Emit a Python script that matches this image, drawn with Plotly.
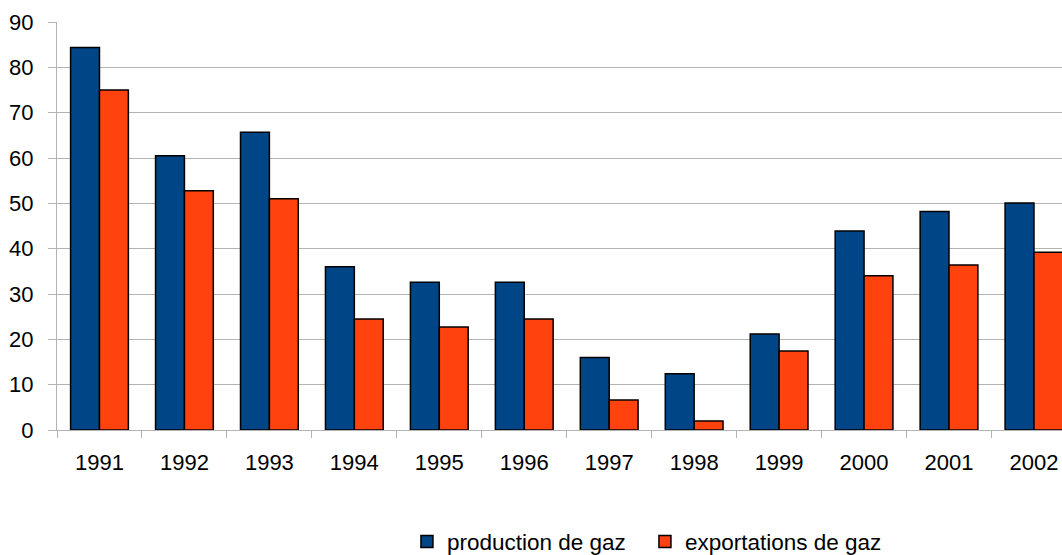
import plotly.graph_objects as go

years = ["1991", "1992", "1993", "1994", "1995", "1996", "1997", "1998", "1999", "2000", "2001", "2002"]
production = [84.4, 60.5, 65.7, 36.0, 32.6, 32.6, 16.0, 12.4, 21.2, 43.9, 48.2, 50.1]
exportations = [75.0, 52.8, 51.0, 24.5, 22.7, 24.5, 6.6, 2.0, 17.4, 34.0, 36.4, 39.2]

fig = go.Figure()
fig.add_trace(go.Bar(x=years, y=production, name="production de gaz", legend="legend",
                     marker=dict(color="#004586", line=dict(color="#000000", width=1.5))))
fig.add_trace(go.Bar(x=years, y=exportations, name="exportations de gaz", legend="legend2",
                     marker=dict(color="#ff420e", line=dict(color="#000000", width=1.5))))

font = dict(family="Liberation Sans, Arial, sans-serif", size=22, color="#000000")
legend_font = dict(family="Liberation Sans, Arial, sans-serif", size=22.5, color="#000000")
leg_common = dict(orientation="h", xref="container", yref="container",
                  xanchor="left", y=0.0235, yanchor="middle",
                  font=legend_font, itemwidth=30, bgcolor="rgba(0,0,0,0)")
fig.update_layout(
    width=1062, height=555,
    margin=dict(l=57, r=0, t=22, b=125, autoexpand=False),
    paper_bgcolor="white", plot_bgcolor="white",
    barmode="group", bargap=0.32, bargroupgap=0,
    font=font,
    showlegend=True,
    legend=dict(x=0.3832, **leg_common),
    legend2=dict(x=0.6073, **leg_common),
    xaxis=dict(type="category", range=[-0.5, 11.33], showgrid=False,
               showline=True, linecolor="#b3b3b3", linewidth=1,
               ticks="outside", ticklen=7, tickcolor="#b3b3b3", tickson="boundaries",
               ticklabelstandoff=13, tickfont=font, tickangle=0),
    yaxis=dict(range=[0, 90], dtick=10, showgrid=True, gridcolor="#b3b3b3", gridwidth=1,
               showline=True, linecolor="#b3b3b3", linewidth=1, zeroline=False,
               ticks="outside", ticklen=8, tickcolor="#b3b3b3",
               ticklabelstandoff=10, tickfont=font),
)

fig.write_html("out.html", config={"displayModeBar": False},
               post_script="document.body.style.margin='0px';document.body.style.overflow='hidden';")
